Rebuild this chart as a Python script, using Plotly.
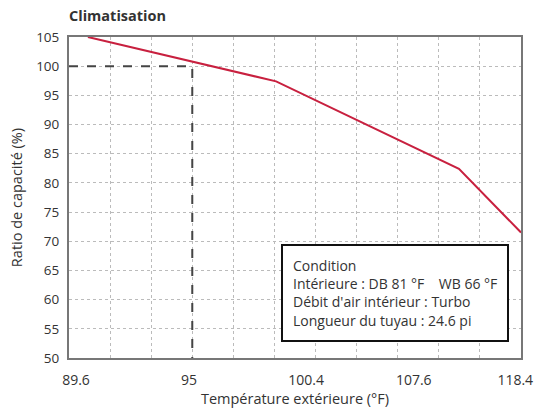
import plotly.graph_objects as go

# Data (x in grid positions, 1 unit per vertical grid line)
curve_x = [0.46, 5.04, 9.49, 11.0]
curve_y = [105.0, 97.4, 82.4, 71.5]

ref_x = [0, 3, 3]
ref_y = [100, 100, 50]

tick_pos = [0.17, 2.92, 5.77, 8.39, 10.86]
tick_labels = ["89.6", "95", "100.4", "107.6", "118.4"]

y_ticks = list(range(50, 106, 5))

info_lines = [
    "Condition",
    "Intérieure : DB 81 °F    WB 66 °F",
    "Débit d'air intérieur : Turbo",
    "Longueur du tuyau : 24.6 pi",
]

FONT = "Open Sans"
GRID = "#BBBBBB"
TXT = "#333333"
W, H = 536, 412
fig = go.Figure()
fig.add_trace(go.Scatter(x=ref_x, y=ref_y, mode="lines", xaxis="x2",
                         line=dict(color="#444444", width=2, dash="dash"),
                         hoverinfo="skip", showlegend=False))
fig.add_trace(go.Scatter(x=curve_x, y=curve_y, mode="lines",
                         line=dict(color="#C8203F", width=2),
                         showlegend=False))

fig.add_annotation(
    xref="paper", yref="paper", x=0.469, y=0.356, xanchor="left", yanchor="top",
    text="<br>".join(info_lines), align="left", showarrow=False,
    font=dict(family=FONT, size=14, color=TXT),
    bgcolor="white", bordercolor="#111111", borderwidth=2, borderpad=10,
)

fig.update_layout(
    width=W, height=H,
    margin=dict(l=69, r=15, t=37, b=54),
    paper_bgcolor="white", plot_bgcolor="white",
    font=dict(family=FONT, size=13, color=TXT),
    title=dict(text="<b>Climatisation</b>", x=69/W, xanchor="left",
               y=1 - 16/H, yanchor="middle",
               font=dict(family=FONT, size=14.5, color=TXT)),
    # grid axis: one vertical dotted line per unit
    xaxis=dict(range=[0, 11], dtick=1, tick0=0, showticklabels=False,
               showgrid=True, gridcolor=GRID, griddash="dot", gridwidth=1,
               showline=True, mirror=True, linecolor="#777777",
               linewidth=2, ticks="", zeroline=False, automargin=False),
    # label axis
    xaxis2=dict(range=[0, 11], overlaying="x", side="bottom",
                tickvals=tick_pos, ticktext=tick_labels, showgrid=False,
                showline=False, ticks="", zeroline=False, automargin=False,
                ticklabelstandoff=12, ticklabeloverflow="allow",
                tickfont=dict(family=FONT, size=14, color=TXT),
                title=dict(text="Température extérieure (°F)", standoff=4,
                           font=dict(family=FONT, size=14.5))),
    yaxis=dict(range=[50, 105], tickvals=y_ticks, showgrid=True,
               gridcolor=GRID, griddash="dot", gridwidth=1,
               showline=True, mirror=True, linecolor="#777777", linewidth=2,
               ticks="", zeroline=False, automargin=False,
               ticklabelstandoff=5,
               tickfont=dict(family=FONT, size=13.5, color=TXT),
               title=dict(text="Ratio de capacité (%)", standoff=10,
                          font=dict(family=FONT, size=14.5))),
)

# remove the default page margin so the figure fills the window exactly
fig.write_html("out.html",
               config={"displayModeBar": False},
               post_script="document.body.style.margin='0';"
                           "document.body.style.overflow='hidden';")
